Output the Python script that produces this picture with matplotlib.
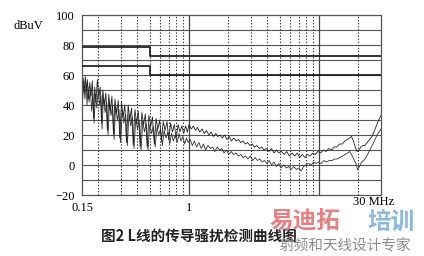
import matplotlib
matplotlib.use("Agg")
import matplotlib.pyplot as plt

# limit lines (dBuV), 0.15-0.5 MHz then 0.5-30 MHz
limit_f = [0.15, 0.5, 0.5, 30]
qp_limit = [79, 79, 73, 73]
av_limit = [66, 66, 60, 60]

# upper trace
peak_f = [0.150, 0.153, 0.156, 0.159, 0.162, 0.165, 0.168, 0.172, 0.176, 0.180,
          0.184, 0.188, 0.192, 0.197, 0.202, 0.207, 0.212, 0.217, 0.223, 0.229,
          0.235, 0.241, 0.248, 0.255, 0.262, 0.269, 0.277, 0.285, 0.293, 0.302,
          0.311, 0.320, 0.330, 0.340, 0.350, 0.361, 0.372, 0.383, 0.395, 0.407,
          0.420, 0.433, 0.447, 0.461, 0.476, 0.491, 0.507, 0.523, 0.540, 0.557,
          0.575, 0.594, 0.613, 0.633, 0.654, 0.676, 0.698, 0.721, 0.745, 0.770,
          0.796, 0.823, 0.851, 0.880, 0.910, 0.940, 0.970,
          1.00, 1.04, 1.08, 1.12, 1.16, 1.21, 1.26, 1.31, 1.36, 1.42, 1.48, 1.54,
          1.60, 1.67, 1.73, 1.80, 1.88, 1.96, 2.04, 2.12, 2.21, 2.30, 2.40, 2.50,
          2.60, 2.71, 2.82, 2.94, 3.06, 3.19, 3.32, 3.47, 3.62, 3.78, 3.95, 4.12,
          4.30, 4.50, 4.70, 4.92, 5.15, 5.40, 5.65, 5.92, 6.20, 6.50, 6.80, 7.10,
          7.45, 7.80, 8.15, 8.55, 8.95, 9.35, 9.80, 10.3, 10.8, 11.3, 11.9, 12.5,
          13.1, 13.7, 14.4, 15.1, 15.8, 16.5, 17.2, 17.8, 18.4, 19.0, 19.6, 20.3,
          21.0, 21.8, 22.6, 23.5, 24.5, 25.6, 26.7, 27.8, 28.8, 30.0]
peak_db = [55, 58, 48, 59, 50, 57, 44, 55, 46, 56,
           31, 52, 42, 57, 45, 52, 28, 50, 40, 48,
           23, 47, 36, 46, 20, 44, 34, 43, 18, 42,
           32, 40, 15, 40, 30, 38, 13, 37, 28, 36,
           12, 35, 27, 34, 12, 33, 26, 32, 14, 31,
           24, 30, 16, 29, 23, 29, 17, 28, 22, 27,
           18, 27, 22, 26, 21, 26, 22,
           27, 24, 26, 23, 25, 22, 24, 21, 23, 20, 22, 19,
           21, 19, 20, 18, 20, 17, 19, 16, 18, 16, 17, 15,
           16, 14, 15, 13, 14, 12, 13, 11, 12, 10, 11, 9,
           11, 8, 10, 8, 9, 7, 9, 6, 8, 6, 8, 5,
           7, 5, 7, 6, 8, 7, 9, 8, 10, 9, 11, 10,
           12, 12, 14, 14, 16, 17, 18, 19, 16, 12, 9, 10,
           12, 13, 13, 15, 17, 19, 23, 27, 30, 33]

# lower trace
avg_f = [0.150, 0.152, 0.155, 0.158, 0.161, 0.164, 0.167, 0.170, 0.174, 0.178,
         0.182, 0.186, 0.190, 0.195, 0.200, 0.205, 0.210, 0.214, 0.219, 0.226,
         0.232, 0.238, 0.244, 0.251, 0.258, 0.265, 0.272, 0.281, 0.289, 0.297,
         0.306, 0.315, 0.325, 0.335, 0.345, 0.356, 0.366, 0.377, 0.389, 0.401,
         0.413, 0.427, 0.440, 0.454, 0.468, 0.483, 0.499, 0.515, 0.531, 0.548,
         0.566, 0.584, 0.603, 0.623, 0.643, 0.665, 0.687, 0.710, 0.733, 0.757,
         0.783, 0.810, 0.837, 0.865, 0.895, 0.925, 0.955, 0.985,
         1.02, 1.06, 1.10, 1.14, 1.19, 1.24, 1.29, 1.34, 1.40, 1.46, 1.52, 1.58,
         1.65, 1.72, 1.79, 1.86, 1.94, 2.02, 2.11, 2.20, 2.30, 2.40, 2.50, 2.61,
         2.72, 2.84, 2.96, 3.09, 3.22, 3.36, 3.50, 3.65, 3.81, 3.97, 4.14, 4.32,
         4.51, 4.70, 4.90, 5.10, 5.35, 5.60, 5.85, 6.10, 6.40, 6.70, 7.00, 7.30,
         7.60, 7.90, 8.30, 8.70, 9.10, 9.50, 9.90, 10.4, 10.9, 11.4, 12.0, 12.6,
         13.2, 13.8, 14.5, 15.2, 15.9, 16.6, 17.2, 17.8, 18.5, 19.2, 19.8, 20.5,
         21.3, 22.1, 23.0, 24.0, 25.0, 26.0, 27.0, 28.0, 29.0, 30.0]
avg_db = [52, 45, 56, 44, 54, 40, 52, 42, 50, 36,
          48, 28, 47, 38, 50, 40, 46, 24, 45, 35,
          42, 20, 42, 33, 40, 17, 39, 30, 37, 15,
          36, 28, 34, 13, 34, 26, 32, 11, 31, 24,
          30, 10, 29, 22, 28, 10, 27, 21, 26, 12,
          25, 20, 24, 13, 23, 18, 22, 14, 21, 16,
          20, 15, 21, 16, 19, 14, 18, 15,
          17, 13, 16, 12, 15, 11, 14, 10, 13, 11, 12, 9,
          12, 10, 11, 8, 10, 7, 9, 7, 8, 6, 7, 5,
          6, 4, 6, 3, 5, 3, 4, 2, 3, 1, 3, 0,
          2, -1, 1, -2, 0, -2, -1, -3, -1, -3, -2, -4,
          -1, 0, 1, 0, 2, 1, 2, 1, 3, 2, 3, 3,
          4, 4, 5, 6, 7, 8, 9, 7, 4, 1, -3, -1,
          2, 3, 5, 8, 11, 14, 17, 20, 22, 24]

minor_f = [0.2, 0.3, 0.4, 0.5, 0.6, 0.7, 0.8, 0.9,
           2, 3, 4, 5, 6, 7, 8, 9, 20]

fig = plt.figure(figsize=(4.24, 2.56), dpi=100)
ax = fig.add_axes([82 / 424, 1 - 195 / 256, 299 / 424, 180 / 256])
ax.set_xscale("log")
ax.set_xlim(0.15, 30)
ax.set_ylim(-20, 100)

for v in range(-10, 100, 10):
    ax.axhline(v, color="#555555", lw=0.8, zorder=1)
for f in minor_f:
    ax.axvline(f, color="#333333", lw=0.8, ls=(0, (1.2, 1.6)), zorder=1)
for f in [1, 10]:
    ax.axvline(f, color="#444444", lw=0.9, zorder=1)

ax.plot(limit_f, qp_limit, color="#222222", lw=1.3, zorder=3)
ax.plot(limit_f, av_limit, color="#222222", lw=1.3, zorder=3)
ax.plot(avg_f, avg_db, color="#333333", lw=0.6, zorder=2)
ax.plot(peak_f, peak_db, color="#222222", lw=0.6, zorder=2)

serif = "Liberation Serif"
ax.set_yticks(range(-20, 101, 20))
ax.set_yticklabels(["\u221220", "0", "20", "40", "60", "80", "100"],
                   fontfamily=serif, fontsize=9)
ax.set_xticks([0.15, 1])
ax.set_xticklabels(["0.15", "1"], fontfamily=serif, fontsize=9)
ax.xaxis.set_minor_locator(matplotlib.ticker.NullLocator())
ax.tick_params(length=0, pad=5)
for s in ax.spines.values():
    s.set_color("#555555")
    s.set_linewidth(0.9)

fig.text(14 / 424, 1 - 26 / 256, "dBuV", fontfamily=serif, fontsize=9,
         va="center", ha="left")
fig.text(374 / 424, 1 - 202 / 256, "30 MHz", fontfamily=serif, fontsize=9,
         va="center", ha="center")

fig.text(199 / 424, 1 - 236 / 256, "图2 L线的传导骚扰检测曲线图",
         family=["Noto Sans CJK SC", "DejaVu Sans"], fontweight="bold",
         fontsize=10.5, va="center", ha="center", color="#222222")

# watermark
fig.text(270 / 424, 1 - 222 / 256, "易迪拓", family="Noto Sans CJK SC",
         fontweight="bold", fontsize=17, color="#e88080", va="center", ha="left")
fig.text(415 / 424, 1 - 222 / 256, "培训", family="Noto Sans CJK SC",
         fontweight="bold", fontsize=17, color="#8ab8e0", va="center", ha="right")
fig.text(345 / 424, 1 - 247 / 256, "射频和天线设计专家", family="Noto Sans CJK SC",
         fontsize=10.5, color="#8a8a8a", va="center", ha="center")

fig.savefig("out.png", dpi=100)
